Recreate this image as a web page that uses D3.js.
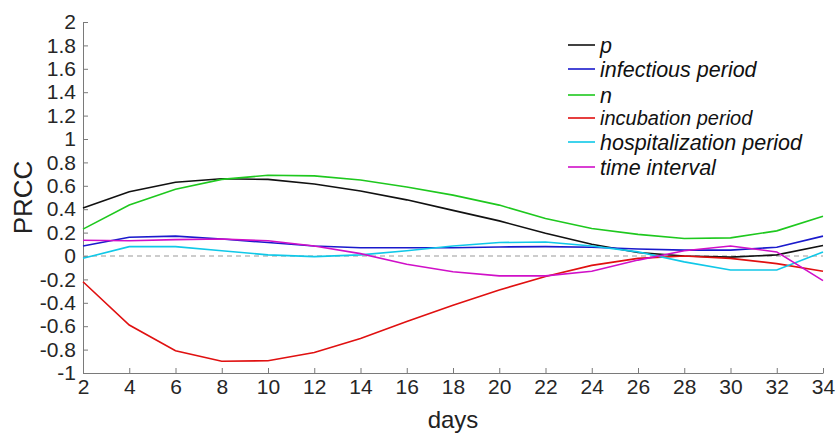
<!DOCTYPE html>
<head>
  <meta charset="utf-8">
  <script src="https://d3js.org/d3.v7.min.js"></script>
  <style>
    body { margin: 0; background: #fff; }
    svg { font-family: "Liberation Sans", Arial, sans-serif; }
    .axis path, .axis line { stroke: #7a7a7a; }
    .axis text { fill: #262626; font-size: 21px; }
    .series { fill: none; stroke-width: 1.6px; }
    .legend text { font-style: italic; fill: #111; font-size: 21.5px; }
  </style>
</head>
<body>
  <svg id="chart"></svg>
  <script>

    var days = [2, 4, 6, 8, 10, 12, 14, 16, 18, 20, 22, 24, 26, 28, 30, 32, 34];

    var pVals        = [0.41, 0.55, 0.63, 0.66, 0.655, 0.615, 0.555, 0.48, 0.39, 0.30, 0.195, 0.1, 0.03, 0.0, -0.01, 0.01, 0.09];
    var infectious   = [0.085, 0.16, 0.17, 0.145, 0.115, 0.085, 0.07, 0.07, 0.07, 0.077, 0.08, 0.075, 0.06, 0.05, 0.05, 0.075, 0.17];
    var nVals        = [0.23, 0.435, 0.57, 0.655, 0.69, 0.685, 0.65, 0.59, 0.52, 0.435, 0.32, 0.235, 0.185, 0.15, 0.155, 0.215, 0.34];
    var incubation   = [-0.22, -0.59, -0.81, -0.90, -0.895, -0.825, -0.705, -0.56, -0.42, -0.29, -0.175, -0.08, -0.02, 0.0, -0.02, -0.065, -0.13];
    var hospital     = [-0.02, 0.08, 0.08, 0.045, 0.01, -0.005, 0.01, 0.045, 0.085, 0.115, 0.12, 0.085, 0.035, -0.05, -0.12, -0.12, 0.035];
    var timeInterval = [0.135, 0.13, 0.14, 0.145, 0.13, 0.085, 0.02, -0.07, -0.135, -0.17, -0.17, -0.13, -0.035, 0.045, 0.085, 0.035, -0.21];

    var seriesNames  = ["p", "infectious period", "n", "incubation period", "hospitalization period", "time interval"];
    var seriesColors = ["#111111", "#1a1acc", "#1ec81e", "#e01010", "#10c8e8", "#d010c8"];
    var seriesData   = [pVals, infectious, nVals, incubation, hospital, timeInterval];

    var yTicks = [-1, -0.8, -0.6, -0.4, -0.2, 0, 0.2, 0.4, 0.6, 0.8, 1, 1.2, 1.4, 1.6, 1.8, 2];

    var width = 838, height = 435;
    var margin = {top: 22, right: 15, bottom: 62, left: 83};

    var svg = d3.select("#chart")
        .attr("width", width)
        .attr("height", height);

    var x = d3.scaleLinear()
        .domain([2, 34])
        .range([margin.left, width - margin.right]);

    var y = d3.scaleLinear()
        .domain([-1, 2])
        .range([height - margin.bottom, margin.top]);

    // x axis, ticks pointing inward
    var xAxis = svg.append("g")
        .attr("class", "axis")
        .attr("transform", "translate(0," + y(-1) + ")")
        .call(d3.axisBottom(x).tickValues(days).tickSizeInner(-5).tickSizeOuter(0));
    xAxis.selectAll("text").attr("dy", "0.71em").attr("y", 6);

    // plain hyphen for negatives, like the original
    var yAxis = svg.append("g")
        .attr("class", "axis")
        .attr("transform", "translate(" + x(2) + ",0)")
        .call(d3.axisLeft(y).tickValues(yTicks).tickFormat(function(d) { return String(d); }).tickSizeInner(-5).tickSizeOuter(0));
    yAxis.selectAll("text").attr("x", -7);

    // zero reference
    svg.append("line")
        .attr("x1", x(2))
        .attr("x2", x(34))
        .attr("y1", y(0))
        .attr("y2", y(0))
        .attr("stroke", "#999")
        .attr("stroke-width", 1.2)
        .attr("stroke-dasharray", "5,4");

    var line = d3.line()
        .x(function(d, i) { return x(days[i]); })
        .y(function(d) { return y(d); });

    svg.append("g")
      .selectAll("path")
      .data(seriesData)
      .enter().append("path")
        .attr("class", "series")
        .attr("stroke", function(d, i) { return seriesColors[i]; })
        .attr("d", line);

    // labels
    svg.append("text")
        .attr("transform", "translate(32," + y(0.5) + ") rotate(-90)")
        .attr("text-anchor", "middle")
        .attr("font-size", 26)
        .attr("fill", "#222")
        .text("PRCC");

    svg.append("text")
        .attr("x", x(18))
        .attr("y", 428)
        .attr("text-anchor", "middle")
        .attr("font-size", 24)
        .attr("fill", "#222")
        .text("days");

    // legend
    var legendY = [45, 69, 95, 118, 142, 167];
    var legend = svg.append("g")
        .attr("class", "legend")
      .selectAll("g")
      .data(seriesNames)
      .enter().append("g")
        .attr("transform", function(d, i) { return "translate(568," + legendY[i] + ")"; });

    legend.append("line")
        .attr("x1", 0)
        .attr("x2", 27)
        .attr("stroke", function(d, i) { return seriesColors[i]; })
        .attr("stroke-width", 1.6);

    legend.append("text")
        .attr("x", 32)
        .attr("dy", "0.35em")
        .style("font-size", function(d) { return d == "incubation period" ? "20px" : "21.5px"; })
        .text(function(d) { return d; });

  </script>
</body>
</html>
